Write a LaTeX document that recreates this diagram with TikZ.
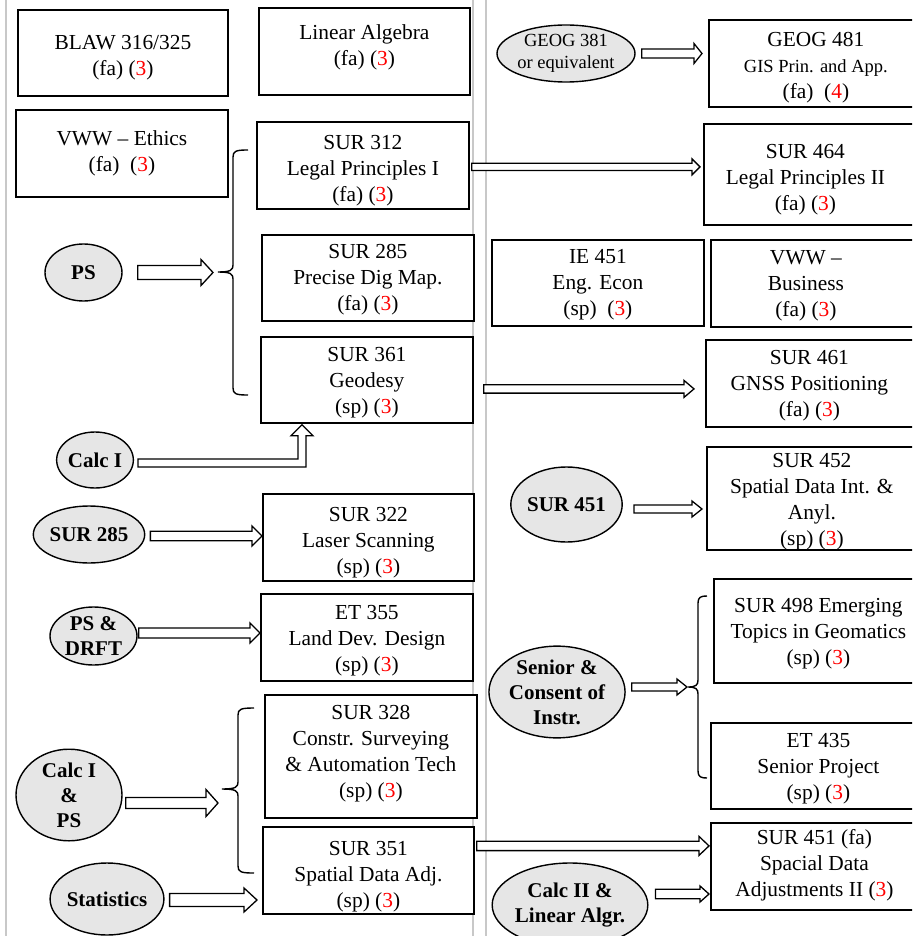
\documentclass[tikz,border=0pt]{standalone}
\usepackage{fontspec}
\setmainfont{Liberation Serif}
\usetikzlibrary{shapes.geometric,calc}
\definecolor{ellfill}{HTML}{E6E6E6}
\definecolor{rulegray}{HTML}{C8C8C8}
\newcommand\rd[1]{\textcolor{red}{#1}}
\tikzset{
 boxs/.style={draw, line width=1.8pt, fill=white, inner sep=0pt},
 txt/.style={align=center, font=\fontsize{21.4}{26}\selectfont, inner sep=0pt},
 ell/.style={ellipse, draw, line width=1.4pt, fill=ellfill, inner sep=0pt, align=center, font=\fontsize{21}{25}\selectfont\bfseries},
 barr/.style={draw, line width=1.3pt, fill=white, line join=miter},
 brc/.style={line width=1.4pt},
 rulel/.style={draw=rulegray, line width=1.5pt}
}
\newcommand\cbox[7][yshift=-3pt]{%
 \node[boxs, minimum width={#5-#3}, minimum height={#6-#4}, anchor=north west] (#2) at (#3,#4) {};
 \node[txt,#1] (#2t) at (#2.center) {#7};}
\newcommand\harrow[5]{%
 \path[barr] let \p1=#1, \p2=#2 in (\x1,\y1+#3pt) -- (\x2-#5pt,\y1+#3pt) -- (\x2-#5pt,\y1+#4pt) -- (\x2,\y1) -- (\x2-#5pt,\y1-#4pt) -- (\x2-#5pt,\y1-#3pt) -- (\x1,\y1-#3pt) -- cycle;}
% name, x vertical, y top, y bottom, x tip, y tip, x hook
\newcommand\brce[7]{%
 \coordinate (#1) at (#5,#6);
 \draw[brc] (#7,#3) .. controls ({#2+3},#3) and (#2,{#3+1}) .. (#2,{#3+7}) -- (#2,{#6-7}) .. controls (#2,{#6-2}) and ({#2-2},#6) .. (#1) .. controls ({#2-2},#6) and (#2,{#6+2}) .. (#2,{#6+7}) -- (#2,{#4-7}) .. controls (#2,{#4-1}) and ({#2+3},#4) .. (#7,#4);}
\begin{document}
\begin{tikzpicture}[x=1pt,y=-1pt]
\useasboundingbox (0,0) rectangle (912,936);
\clip (0,0) rectangle (912,936);
\draw[rulel] (6,0) -- (6,936);
\draw[rulel] (473,0) -- (473,936);
\draw[rulel] (486,0) -- (486,936);
% left column boxes
\cbox[yshift=-5pt]{blaw}{17}{9}{227}{95}{BLAW 316/325\\(fa) (\rd{3})}
\cbox[yshift=4pt]{linalg}{258}{7}{469}{94}{Linear Algebra\\(fa) (\rd{3})}
\cbox[yshift=0pt]{vww}{15}{109}{227}{196}{VWW – Ethics\\(fa)\ \ (\rd{3})}
\cbox[yshift=-5pt]{sur312}{256}{121}{468}{208}{SUR 312\\Legal Principles I\\(fa) (\rd{3})}
\cbox[yshift=-2pt]{sur285}{261}{234}{473}{320}{SUR 285\\Precise Dig Map.\\(fa) (\rd{3})}
\cbox{sur361}{260}{336}{472}{422}{SUR 361\\Geodesy\\(sp) (\rd{3})}
\cbox[yshift=-5pt]{sur322}{262}{493}{473}{580}{SUR 322\\Laser Scanning\\(sp) (\rd{3})}
\cbox{et355}{260}{593}{472}{680}{ET 355\\Land Dev. Design\\(sp) (\rd{3})}
\cbox[yshift=3pt]{sur328}{264}{694}{476}{817}{SUR 328\\Constr. Surveying\\\& Automation Tech\\(sp) (\rd{3})}
\cbox[yshift=-6pt]{sur351}{262}{826}{473}{913}{SUR 351\\Spatial Data Adj.\\(sp) (\rd{3})}
% right column boxes
\cbox[yshift=-4pt]{geog481}{708}{19}{922}{106}{GEOG 481\\{\fontsize{18.5}{23}\selectfont GIS Prin. and App.}\\(fa)\ \ (\rd{4})}
\cbox[xshift=-7pt,yshift=-5pt]{sur464}{703}{123}{920}{224}{SUR 464\\Legal Principles II\\(fa) (\rd{3})}
\cbox[yshift=-2pt]{ie451}{491}{239}{703}{325}{IE 451\\Eng. Econ\\(sp)\ \ (\rd{3})}
\cbox[xshift=-10pt,yshift=-2pt]{vwwb}{710}{239}{920}{326}{VWW –\\Business\\(fa) (\rd{3})}
\cbox[xshift=-4pt,yshift=-2pt]{sur461}{705}{339}{920}{426}{SUR 461\\GNSS Positioning\\(fa) (\rd{3})}
\cbox[xshift=-2pt,yshift=-3pt]{sur452}{706}{446}{920}{549}{SUR 452\\Spatial Data Int. \&\\Anyl.\\(sp) (\rd{3})}
\cbox{sur498}{713}{578}{922}{682}{SUR 498 Emerging\\Topics in Geomatics\\(sp) (\rd{3})}
\cbox{et435}{710}{722}{925}{808}{ET 435\\Senior Project\\(sp) (\rd{3})}
\cbox[xshift=-4pt,yshift=1pt]{sur451fa}{710}{822}{925}{909}{SUR 451 (fa)\\Spacial Data\\Adjustments II (\rd{3})}
% ellipses
\node[ell, minimum width=138, minimum height=57, font=\fontsize{18.5}{22}\selectfont] (geog381) at (566,53.5) {GEOG 381\\or equivalent};
\node[ell, minimum width=77, minimum height=57] (ps) at (83.5,272.5) {PS};
\node[ell, minimum width=76, minimum height=56] (calc1) at (95,460) {Calc I};
\node[ell, minimum width=92, minimum height=57] (sur285e) at (89,534.5) {SUR 285};
\node[ell, minimum width=87, minimum height=58] (psdrft) at (93.5,636) {PS \&\\DRFT};
\node[ell, minimum width=106, minimum height=86] (calc1ps) at (69,795) {Calc I\\\&\\PS};
\node[ell, minimum width=105, minimum height=72] (stats) at (107,899) {Statistics};
\node[ell, minimum width=91, minimum height=75] (sur451e) at (566.5,504.5) {SUR 451};
\node[ell, minimum width=120, minimum height=90] (senior) at (557,692) {Senior \&\\Consent of\\Instr.};
\node[ell, minimum width=146, minimum height=84] (calc2) at (570,905) {Calc II \&\\Linear Algr.};
% braces
\brce{brace1}{233}{150}{395}{218}{272}{248}
\brce{brace2}{698}{596}{778}{688}{687}{707}
\brce{brace3}{238}{708}{873}{222}{789}{254}
% block arrows
\harrow{($(geog381.east)+(6,0)$)}{($(geog481.west)+(-6,0)$)}{4.5}{10}{8}
\harrow{($(sur312.east)+(2,1.5)$)}{($(sur464.west)+(-3,0)$)}{3.7}{8}{8}
\harrow{($(ps.east)+(15,0)$)}{($(brace1)+(-5,0)$)}{7}{13}{12}
\harrow{($(sur361.east)+(10,9)$)}{($(sur461.west)+(-11,0)$)}{4.2}{8.5}{10}
\harrow{($(sur451e.east)+(11,4.5)$)}{($(sur452.west)+(-4,0)$)}{4}{8}{10}
\harrow{($(senior.east)+(6,-5)$)}{($(brace2)+(-1,0)$)}{4}{8}{10}
\harrow{($(sur351.east)+(2,-24.5)$)}{($(sur451fa.west)+(-1,0)$)}{4.7}{9.5}{10}
\harrow{($(calc2.east)+(7,-11)$)}{($(sur451fa.west)+(-1,0)$)}{4.7}{8}{9}
\harrow{($(sur285e.east)+(5,1.5)$)}{(sur322.west)}{4.7}{10}{10}
\harrow{($(psdrft.east)+(1,-3)$)}{(et355.west)}{5}{10}{10}
\harrow{($(calc1ps.east)+(3,8)$)}{($(brace3)+(-4,0)$)}{5.5}{13.5}{12}
\harrow{($(stats.east)+(5,1)$)}{($(sur351.west)+(-5,0)$)}{6.5}{12}{13}
% elbow arrow Calc I -> SUR 361
\path[barr] let \p1=($(calc1.east)+(4,3)$), \p2=($(sur361.south west)+(42,1)$) in
 (\x1,\y1+4pt) -- (\x2-4pt,\y1+4pt) -- (\x2-4pt,\y2-11pt) -- (\x2-11pt,\y2-11pt) -- (\x2,\y2) -- (\x2+11pt,\y2-11pt) -- (\x2+4pt,\y2-11pt) -- (\x2+4pt,\y1-4pt) -- (\x1,\y1-4pt) -- cycle;
\end{tikzpicture}
\end{document}
